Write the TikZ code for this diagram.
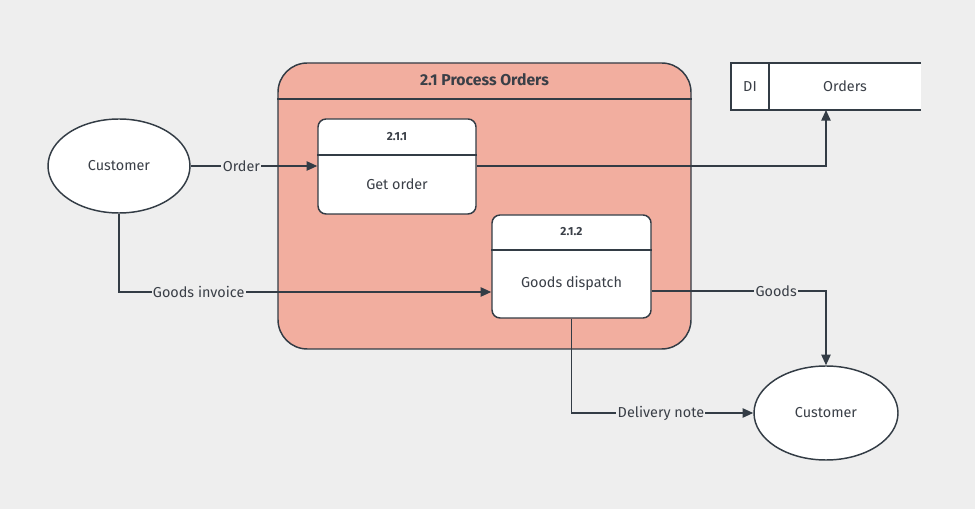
\documentclass[tikz,border=0pt]{standalone}
\usepackage{fontspec}
\setmainfont{Fira Sans}
\usetikzlibrary{arrows.meta,shapes.geometric}
\definecolor{bg}{HTML}{EEEEEE}
\definecolor{ln}{HTML}{333C45}
\definecolor{tx}{HTML}{3A3F47}
\definecolor{salmon}{HTML}{F2AE9F}
\tikzset{
  every node/.style={text=tx, font=\fontsize{10.8}{12}\selectfont},
  proc/.style={draw=ln, line width=1.1pt, fill=white, rounded corners=6pt, inner sep=0pt},
  ent/.style={draw=ln, line width=1.1pt, fill=white, ellipse, inner sep=0pt},
  arr/.style={draw=ln, line width=1.1pt, -{Triangle[length=8pt,width=7pt]}},
  lbl/.style={fill=bg, inner sep=1pt},
  ln/.style={draw=ln, line width=1.1pt},
  num/.style={font=\bfseries\fontsize{8.8}{10}\selectfont},
}
\begin{document}
\begin{tikzpicture}[x=0.75pt,y=-0.75pt]
\fill[bg] (0,0) rectangle (975,509);
\useasboundingbox (0,0) rectangle (975,509);
% container
\node[draw=ln, line width=1.1pt, fill=salmon, rounded corners=22pt, minimum width=309.75pt, minimum height=214.5pt, inner sep=0pt] (cont) at (484.5,206) {};
\draw[ln] (cont.west |- 0,99) -- (cont.east |- 0,99);
\node[font=\bfseries\fontsize{11.8}{13}\selectfont] (title) at (484.5,80) {2.1 Process Orders};
% store
\fill[white] (731,63) rectangle (921,110);
\draw[ln] (921,63) -- (731,63) -- (731,110) -- (921,110);
\draw[ln] (769,63) -- (769,110);
\node (di) at (750,86.5) {DI};
\node (store) at (845,86.5) {Orders};
\coordinate (storebot) at (826,110);
% processes
\node[proc, minimum width=118.5pt, minimum height=71.25pt] (go) at (397,166.5) {};
\draw[ln] (go.west |- 0,155) -- (go.east |- 0,155);
\node[num] (go1) at (397,137) {2.1.1};
\node (go2) at (397,184) {Get order};
\node[proc, minimum width=119.25pt, minimum height=77.25pt] (gd) at (571.5,266.5) {};
\draw[ln] (gd.west |- 0,250) -- (gd.east |- 0,250);
\node[num] (gd1) at (571.5,232) {2.1.2};
\node (gd2) at (571.5,283) {Goods dispatch};
% entities
\node[ent, minimum width=106.5pt, minimum height=70.5pt] (c1) at (119,166) {Customer};
\node[ent, minimum width=108pt, minimum height=70.5pt] (c2) at (826,413) {Customer};
% flows
\draw[arr] (c1.east) -- node[lbl, pos=0.4]{Order} (go.west |- c1.east);
\draw[arr] (go.east |- c1.east) -| (storebot);
\draw[arr] (c1.south) |- node[lbl, pos=0.607]{Goods invoice} (gd.west |- 0,292);
\draw[arr] (gd.east |- 0,291) -| node[lbl, pos=0.357]{Goods} (c2.north);
\draw[arr] (gd.south) |- node[lbl, pos=0.746]{Delivery note} (c2.west);
\end{tikzpicture}
\end{document}
